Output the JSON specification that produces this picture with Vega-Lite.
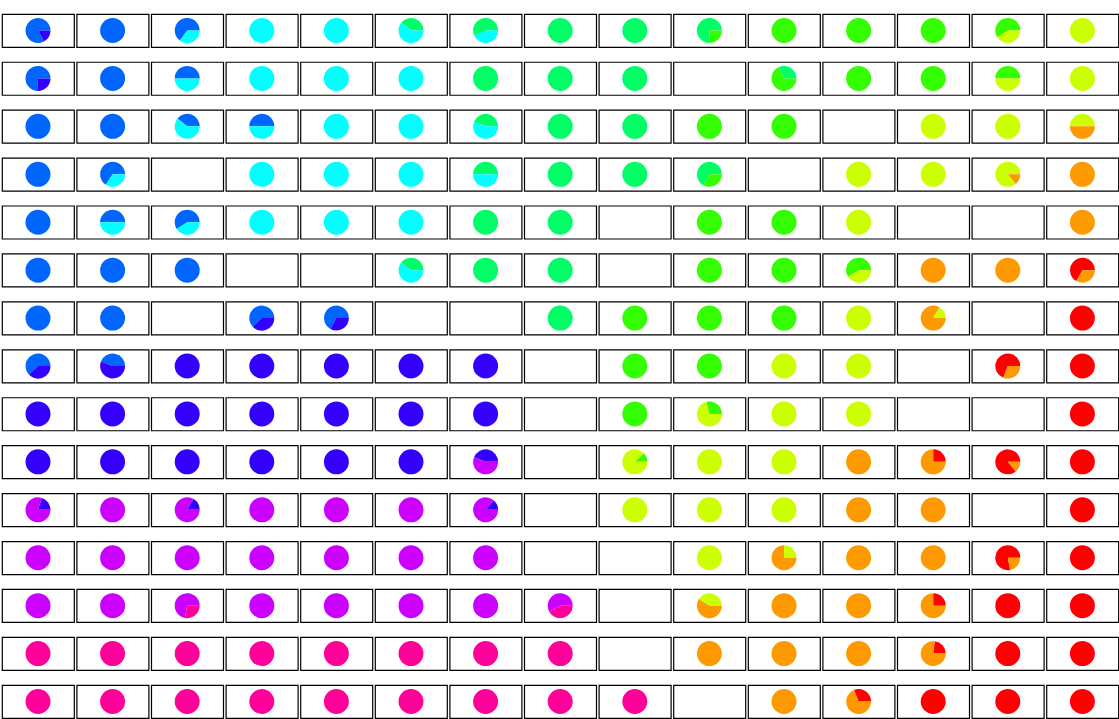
{
  "$schema": "https://vega.github.io/schema/vega-lite/v6.json",
  "padding": {"left": 1, "top": 13, "right": 0, "bottom": 0},
  "background": "white",
  "bounds": "flush",
  "data": {"values": [
    {"r":0,"c":0,"s":"B","k":5,"v":83},{"r":0,"c":0,"s":"I","k":7,"v":17},
    {"r":0,"c":1,"s":"B","k":5,"v":100},
    {"r":0,"c":2,"s":"B","k":5,"v":65},{"r":0,"c":2,"s":"C","k":6,"v":35},
    {"r":0,"c":3,"s":"C","k":6,"v":100},
    {"r":0,"c":4,"s":"C","k":6,"v":100},
    {"r":0,"c":5,"s":"S","k":1,"v":39},{"r":0,"c":5,"s":"C","k":6,"v":61},
    {"r":0,"c":6,"s":"S","k":1,"v":57},{"r":0,"c":6,"s":"C","k":6,"v":43},
    {"r":0,"c":7,"s":"S","k":1,"v":100},
    {"r":0,"c":8,"s":"S","k":1,"v":100},
    {"r":0,"c":9,"s":"S","k":1,"v":75},{"r":0,"c":9,"s":"G","k":2,"v":25},
    {"r":0,"c":10,"s":"G","k":2,"v":100},
    {"r":0,"c":11,"s":"G","k":2,"v":100},
    {"r":0,"c":12,"s":"G","k":2,"v":100},
    {"r":0,"c":13,"s":"G","k":2,"v":59},{"r":0,"c":13,"s":"Y","k":3,"v":41},
    {"r":0,"c":14,"s":"Y","k":3,"v":100},

    {"r":1,"c":0,"s":"B","k":5,"v":74},{"r":1,"c":0,"s":"I","k":7,"v":26},
    {"r":1,"c":1,"s":"B","k":5,"v":100},
    {"r":1,"c":2,"s":"B","k":5,"v":50},{"r":1,"c":2,"s":"C","k":6,"v":50},
    {"r":1,"c":3,"s":"C","k":6,"v":100},
    {"r":1,"c":4,"s":"C","k":6,"v":100},
    {"r":1,"c":5,"s":"C","k":6,"v":100},
    {"r":1,"c":6,"s":"S","k":1,"v":100},
    {"r":1,"c":7,"s":"S","k":1,"v":100},
    {"r":1,"c":8,"s":"S","k":1,"v":100},
    {"r":1,"c":9,"s":"B","k":5,"v":0},
    {"r":1,"c":10,"s":"S","k":1,"v":32},{"r":1,"c":10,"s":"G","k":2,"v":68},
    {"r":1,"c":11,"s":"G","k":2,"v":100},
    {"r":1,"c":12,"s":"G","k":2,"v":100},
    {"r":1,"c":13,"s":"G","k":2,"v":50},{"r":1,"c":13,"s":"Y","k":3,"v":50},
    {"r":1,"c":14,"s":"Y","k":3,"v":100},

    {"r":2,"c":0,"s":"B","k":5,"v":100},
    {"r":2,"c":1,"s":"B","k":5,"v":100},
    {"r":2,"c":2,"s":"B","k":5,"v":39},{"r":2,"c":2,"s":"C","k":6,"v":61},
    {"r":2,"c":3,"s":"B","k":5,"v":50},{"r":2,"c":3,"s":"C","k":6,"v":50},
    {"r":2,"c":4,"s":"C","k":6,"v":100},
    {"r":2,"c":5,"s":"C","k":6,"v":100},
    {"r":2,"c":6,"s":"S","k":1,"v":44},{"r":2,"c":6,"s":"C","k":6,"v":56},
    {"r":2,"c":7,"s":"S","k":1,"v":100},
    {"r":2,"c":8,"s":"S","k":1,"v":100},
    {"r":2,"c":9,"s":"G","k":2,"v":100},
    {"r":2,"c":10,"s":"G","k":2,"v":100},
    {"r":2,"c":11,"s":"B","k":5,"v":0},
    {"r":2,"c":12,"s":"Y","k":3,"v":100},
    {"r":2,"c":13,"s":"Y","k":3,"v":100},
    {"r":2,"c":14,"s":"Y","k":3,"v":50},{"r":2,"c":14,"s":"O","k":4,"v":50},

    {"r":3,"c":0,"s":"B","k":5,"v":100},
    {"r":3,"c":1,"s":"B","k":5,"v":66},{"r":3,"c":1,"s":"C","k":6,"v":34},
    {"r":3,"c":2,"s":"B","k":5,"v":0},
    {"r":3,"c":3,"s":"C","k":6,"v":100},
    {"r":3,"c":4,"s":"C","k":6,"v":100},
    {"r":3,"c":5,"s":"C","k":6,"v":100},
    {"r":3,"c":6,"s":"S","k":1,"v":50},{"r":3,"c":6,"s":"C","k":6,"v":50},
    {"r":3,"c":7,"s":"S","k":1,"v":100},
    {"r":3,"c":8,"s":"S","k":1,"v":100},
    {"r":3,"c":9,"s":"S","k":1,"v":67},{"r":3,"c":9,"s":"G","k":2,"v":33},
    {"r":3,"c":10,"s":"B","k":5,"v":0},
    {"r":3,"c":11,"s":"Y","k":3,"v":100},
    {"r":3,"c":12,"s":"Y","k":3,"v":100},
    {"r":3,"c":13,"s":"Y","k":3,"v":86},{"r":3,"c":13,"s":"O","k":4,"v":14},
    {"r":3,"c":14,"s":"O","k":4,"v":100},

    {"r":4,"c":0,"s":"B","k":5,"v":100},
    {"r":4,"c":1,"s":"B","k":5,"v":50},{"r":4,"c":1,"s":"C","k":6,"v":50},
    {"r":4,"c":2,"s":"B","k":5,"v":59},{"r":4,"c":2,"s":"C","k":6,"v":41},
    {"r":4,"c":3,"s":"C","k":6,"v":100},
    {"r":4,"c":4,"s":"C","k":6,"v":100},
    {"r":4,"c":5,"s":"C","k":6,"v":100},
    {"r":4,"c":6,"s":"S","k":1,"v":100},
    {"r":4,"c":7,"s":"S","k":1,"v":100},
    {"r":4,"c":8,"s":"B","k":5,"v":0},
    {"r":4,"c":9,"s":"G","k":2,"v":100},
    {"r":4,"c":10,"s":"G","k":2,"v":100},
    {"r":4,"c":11,"s":"Y","k":3,"v":100},
    {"r":4,"c":12,"s":"B","k":5,"v":0},
    {"r":4,"c":13,"s":"B","k":5,"v":0},
    {"r":4,"c":14,"s":"O","k":4,"v":100},

    {"r":5,"c":0,"s":"B","k":5,"v":100},
    {"r":5,"c":1,"s":"B","k":5,"v":100},
    {"r":5,"c":2,"s":"B","k":5,"v":100},
    {"r":5,"c":3,"s":"B","k":5,"v":0},
    {"r":5,"c":4,"s":"B","k":5,"v":0},
    {"r":5,"c":5,"s":"S","k":1,"v":40},{"r":5,"c":5,"s":"C","k":6,"v":60},
    {"r":5,"c":6,"s":"S","k":1,"v":100},
    {"r":5,"c":7,"s":"S","k":1,"v":100},
    {"r":5,"c":8,"s":"B","k":5,"v":0},
    {"r":5,"c":9,"s":"G","k":2,"v":100},
    {"r":5,"c":10,"s":"G","k":2,"v":100},
    {"r":5,"c":11,"s":"G","k":2,"v":59},{"r":5,"c":11,"s":"Y","k":3,"v":41},
    {"r":5,"c":12,"s":"O","k":4,"v":100},
    {"r":5,"c":13,"s":"O","k":4,"v":100},
    {"r":5,"c":14,"s":"R","k":0,"v":67},{"r":5,"c":14,"s":"O","k":4,"v":33},

    {"r":6,"c":0,"s":"B","k":5,"v":100},
    {"r":6,"c":1,"s":"B","k":5,"v":100},
    {"r":6,"c":2,"s":"B","k":5,"v":0},
    {"r":6,"c":3,"s":"B","k":5,"v":62},{"r":6,"c":3,"s":"I","k":7,"v":38},
    {"r":6,"c":4,"s":"B","k":5,"v":67},{"r":6,"c":4,"s":"I","k":7,"v":33},
    {"r":6,"c":5,"s":"B","k":5,"v":0},
    {"r":6,"c":6,"s":"B","k":5,"v":0},
    {"r":6,"c":7,"s":"S","k":1,"v":100},
    {"r":6,"c":8,"s":"G","k":2,"v":100},
    {"r":6,"c":9,"s":"G","k":2,"v":100},
    {"r":6,"c":10,"s":"G","k":2,"v":100},
    {"r":6,"c":11,"s":"Y","k":3,"v":100},
    {"r":6,"c":12,"s":"Y","k":3,"v":17},{"r":6,"c":12,"s":"O","k":4,"v":83},
    {"r":6,"c":13,"s":"B","k":5,"v":0},
    {"r":6,"c":14,"s":"R","k":0,"v":100},

    {"r":7,"c":0,"s":"B","k":5,"v":62},{"r":7,"c":0,"s":"I","k":7,"v":38},
    {"r":7,"c":1,"s":"B","k":5,"v":44},{"r":7,"c":1,"s":"I","k":7,"v":56},
    {"r":7,"c":2,"s":"I","k":7,"v":100},
    {"r":7,"c":3,"s":"I","k":7,"v":100},
    {"r":7,"c":4,"s":"I","k":7,"v":100},
    {"r":7,"c":5,"s":"I","k":7,"v":100},
    {"r":7,"c":6,"s":"I","k":7,"v":100},
    {"r":7,"c":7,"s":"B","k":5,"v":0},
    {"r":7,"c":8,"s":"G","k":2,"v":100},
    {"r":7,"c":9,"s":"G","k":2,"v":100},
    {"r":7,"c":10,"s":"Y","k":3,"v":100},
    {"r":7,"c":11,"s":"Y","k":3,"v":100},
    {"r":7,"c":12,"s":"B","k":5,"v":0},
    {"r":7,"c":13,"s":"R","k":0,"v":69},{"r":7,"c":13,"s":"O","k":4,"v":31},
    {"r":7,"c":14,"s":"R","k":0,"v":100},

    {"r":8,"c":0,"s":"I","k":7,"v":100},
    {"r":8,"c":1,"s":"I","k":7,"v":100},
    {"r":8,"c":2,"s":"I","k":7,"v":100},
    {"r":8,"c":3,"s":"I","k":7,"v":100},
    {"r":8,"c":4,"s":"I","k":7,"v":100},
    {"r":8,"c":5,"s":"I","k":7,"v":100},
    {"r":8,"c":6,"s":"I","k":7,"v":100},
    {"r":8,"c":7,"s":"B","k":5,"v":0},
    {"r":8,"c":8,"s":"G","k":2,"v":100},
    {"r":8,"c":9,"s":"G","k":2,"v":29},{"r":8,"c":9,"s":"Y","k":3,"v":71},
    {"r":8,"c":10,"s":"Y","k":3,"v":100},
    {"r":8,"c":11,"s":"Y","k":3,"v":100},
    {"r":8,"c":12,"s":"B","k":5,"v":0},
    {"r":8,"c":13,"s":"B","k":5,"v":0},
    {"r":8,"c":14,"s":"R","k":0,"v":100},

    {"r":9,"c":0,"s":"I","k":7,"v":100},
    {"r":9,"c":1,"s":"I","k":7,"v":100},
    {"r":9,"c":2,"s":"I","k":7,"v":100},
    {"r":9,"c":3,"s":"I","k":7,"v":100},
    {"r":9,"c":4,"s":"I","k":7,"v":100},
    {"r":9,"c":5,"s":"I","k":7,"v":100},
    {"r":9,"c":6,"s":"I","k":7,"v":44},{"r":9,"c":6,"s":"M","k":8,"v":56},
    {"r":9,"c":7,"s":"B","k":5,"v":0},
    {"r":9,"c":8,"s":"G","k":2,"v":12},{"r":9,"c":8,"s":"Y","k":3,"v":88},
    {"r":9,"c":9,"s":"Y","k":3,"v":100},
    {"r":9,"c":10,"s":"Y","k":3,"v":100},
    {"r":9,"c":11,"s":"O","k":4,"v":100},
    {"r":9,"c":12,"s":"R","k":0,"v":25},{"r":9,"c":12,"s":"O","k":4,"v":75},
    {"r":9,"c":13,"s":"R","k":0,"v":86},{"r":9,"c":13,"s":"O","k":4,"v":14},
    {"r":9,"c":14,"s":"R","k":0,"v":100},

    {"r":10,"c":0,"s":"I","k":7,"v":20},{"r":10,"c":0,"s":"M","k":8,"v":80},
    {"r":10,"c":1,"s":"M","k":8,"v":100},
    {"r":10,"c":2,"s":"I","k":7,"v":17},{"r":10,"c":2,"s":"M","k":8,"v":83},
    {"r":10,"c":3,"s":"M","k":8,"v":100},
    {"r":10,"c":4,"s":"M","k":8,"v":100},
    {"r":10,"c":5,"s":"M","k":8,"v":100},
    {"r":10,"c":6,"s":"I","k":7,"v":14},{"r":10,"c":6,"s":"M","k":8,"v":86},
    {"r":10,"c":7,"s":"B","k":5,"v":0},
    {"r":10,"c":8,"s":"Y","k":3,"v":100},
    {"r":10,"c":9,"s":"Y","k":3,"v":100},
    {"r":10,"c":10,"s":"Y","k":3,"v":100},
    {"r":10,"c":11,"s":"O","k":4,"v":100},
    {"r":10,"c":12,"s":"O","k":4,"v":100},
    {"r":10,"c":13,"s":"B","k":5,"v":0},
    {"r":10,"c":14,"s":"R","k":0,"v":100},

    {"r":11,"c":0,"s":"M","k":8,"v":100},
    {"r":11,"c":1,"s":"M","k":8,"v":100},
    {"r":11,"c":2,"s":"M","k":8,"v":100},
    {"r":11,"c":3,"s":"M","k":8,"v":100},
    {"r":11,"c":4,"s":"M","k":8,"v":100},
    {"r":11,"c":5,"s":"M","k":8,"v":100},
    {"r":11,"c":6,"s":"M","k":8,"v":100},
    {"r":11,"c":7,"s":"B","k":5,"v":0},
    {"r":11,"c":8,"s":"B","k":5,"v":0},
    {"r":11,"c":9,"s":"Y","k":3,"v":100},
    {"r":11,"c":10,"s":"Y","k":3,"v":25},{"r":11,"c":10,"s":"O","k":4,"v":75},
    {"r":11,"c":11,"s":"O","k":4,"v":100},
    {"r":11,"c":12,"s":"O","k":4,"v":100},
    {"r":11,"c":13,"s":"R","k":0,"v":78},{"r":11,"c":13,"s":"O","k":4,"v":22},
    {"r":11,"c":14,"s":"R","k":0,"v":100},

    {"r":12,"c":0,"s":"M","k":8,"v":100},
    {"r":12,"c":1,"s":"M","k":8,"v":100},
    {"r":12,"c":2,"s":"M","k":8,"v":72},{"r":12,"c":2,"s":"P","k":9,"v":28},
    {"r":12,"c":3,"s":"M","k":8,"v":100},
    {"r":12,"c":4,"s":"M","k":8,"v":100},
    {"r":12,"c":5,"s":"M","k":8,"v":100},
    {"r":12,"c":6,"s":"M","k":8,"v":100},
    {"r":12,"c":7,"s":"M","k":8,"v":58},{"r":12,"c":7,"s":"P","k":9,"v":42},
    {"r":12,"c":8,"s":"B","k":5,"v":0},
    {"r":12,"c":9,"s":"Y","k":3,"v":41},{"r":12,"c":9,"s":"O","k":4,"v":59},
    {"r":12,"c":10,"s":"O","k":4,"v":100},
    {"r":12,"c":11,"s":"O","k":4,"v":100},
    {"r":12,"c":12,"s":"R","k":0,"v":25},{"r":12,"c":12,"s":"O","k":4,"v":75},
    {"r":12,"c":13,"s":"R","k":0,"v":100},
    {"r":12,"c":14,"s":"R","k":0,"v":100},

    {"r":13,"c":0,"s":"P","k":9,"v":100},
    {"r":13,"c":1,"s":"P","k":9,"v":100},
    {"r":13,"c":2,"s":"P","k":9,"v":100},
    {"r":13,"c":3,"s":"P","k":9,"v":100},
    {"r":13,"c":4,"s":"P","k":9,"v":100},
    {"r":13,"c":5,"s":"P","k":9,"v":100},
    {"r":13,"c":6,"s":"P","k":9,"v":100},
    {"r":13,"c":7,"s":"P","k":9,"v":100},
    {"r":13,"c":8,"s":"B","k":5,"v":0},
    {"r":13,"c":9,"s":"O","k":4,"v":100},
    {"r":13,"c":10,"s":"O","k":4,"v":100},
    {"r":13,"c":11,"s":"O","k":4,"v":100},
    {"r":13,"c":12,"s":"R","k":0,"v":23},{"r":13,"c":12,"s":"O","k":4,"v":77},
    {"r":13,"c":13,"s":"R","k":0,"v":100},
    {"r":13,"c":14,"s":"R","k":0,"v":100},

    {"r":14,"c":0,"s":"P","k":9,"v":100},
    {"r":14,"c":1,"s":"P","k":9,"v":100},
    {"r":14,"c":2,"s":"P","k":9,"v":100},
    {"r":14,"c":3,"s":"P","k":9,"v":100},
    {"r":14,"c":4,"s":"P","k":9,"v":100},
    {"r":14,"c":5,"s":"P","k":9,"v":100},
    {"r":14,"c":6,"s":"P","k":9,"v":100},
    {"r":14,"c":7,"s":"P","k":9,"v":100},
    {"r":14,"c":8,"s":"P","k":9,"v":100},
    {"r":14,"c":9,"s":"B","k":5,"v":0},
    {"r":14,"c":10,"s":"O","k":4,"v":100},
    {"r":14,"c":11,"s":"R","k":0,"v":31},{"r":14,"c":11,"s":"O","k":4,"v":69},
    {"r":14,"c":12,"s":"R","k":0,"v":100},
    {"r":14,"c":13,"s":"R","k":0,"v":100},
    {"r":14,"c":14,"s":"R","k":0,"v":100}
  ]},
  "spacing": {"row": 14.93, "column": 2.6},
  "facet": {
    "row": {"field": "r", "type": "ordinal", "header": {"labels": false, "title": null}},
    "column": {"field": "c", "type": "ordinal", "header": {"labels": false, "title": null}}
  },
  "spec": {
    "width": 72,
    "height": 33,
    "view": {"stroke": "black", "strokeWidth": 1.2, "fill": "white"},
    "mark": {"type": "arc", "outerRadius": 12.5},
    "encoding": {
      "x": {"datum": 0, "type": "quantitative", "scale": {"domain": [-1, 1], "zero": false, "nice": false}, "axis": null},
      "y": {"datum": 0, "type": "quantitative", "scale": {"domain": [-1, 1], "zero": false, "nice": false}, "axis": null},
      "theta": {"field": "v", "type": "quantitative", "stack": true,
        "scale": {"domain": [0, 100], "range": [1.5707963, -4.712389]}},
      "order": {"field": "k", "type": "quantitative"},
      "color": {"field": "s", "type": "nominal", "legend": null,
        "scale": {"domain": ["R","O","Y","G","S","C","B","I","M","P"],
                  "range": ["#FF0000","#FF9900","#CCFF00","#33FF00","#00FF66","#00FFFF","#0066FF","#3300FF","#CC00FF","#FF0099"]}}
    }
  },
  "config": {
    "view": {"stroke": "black", "strokeWidth": 1.2, "fill": "white"},
    "style": {"cell": {"stroke": "black", "strokeWidth": 1.2}}
  }
}
